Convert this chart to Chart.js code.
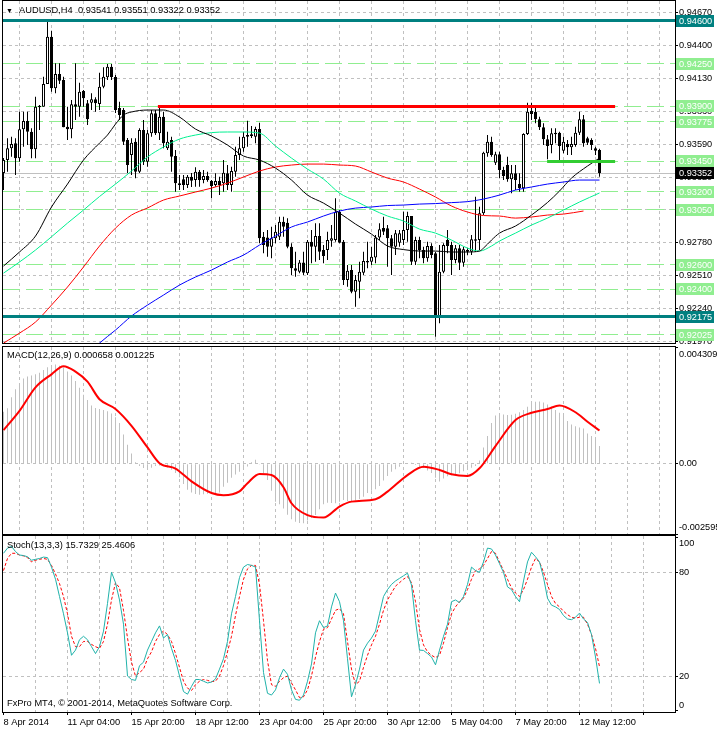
<!DOCTYPE html>
<html>
<head>
<meta charset="utf-8">
<title>AUDUSD,H4</title>
<script src="https://cdn.jsdelivr.net/npm/chart.js@4/dist/chart.umd.min.js"></script>
<style>
  html, body { margin:0; padding:0; background:#ffffff; }
  #wrap { position:relative; width:717px; height:729px; overflow:hidden; background:#ffffff; }
  #wrap canvas { position:absolute; left:0; }
  .txt { position:absolute; font-family:"Liberation Sans", Arial, sans-serif; font-size:9.3px; line-height:11px; color:#000; white-space:nowrap; z-index:2; }
</style>
</head>
<body>
<div id="wrap">
  <canvas id="priceChart" width="717" height="345" style="top:0px"></canvas>
  <canvas id="macdChart" width="717" height="191" style="top:345px"></canvas>
  <canvas id="stochChart" width="717" height="194" style="top:535px"></canvas>
  <div class="txt" style="left:6px;top:5px;font-size:7px">▼</div>
  <div class="txt" style="left:19px;top:5px">AUDUSD,H4&nbsp; 0.93541 0.93551 0.93322 0.93352</div>
  <div class="txt" style="left:7px;top:350px">MACD(12,26,9) 0.000658 0.001225</div>
  <div class="txt" style="left:7px;top:540px">Stoch(13,3,3) 15.7329 25.4606</div>
  <div class="txt" style="left:7px;top:698px">FxPro MT4, © 2001-2014, MetaQuotes Software Corp.</div>
</div>
<script>
// ---------------- DATA ----------------
const dateLabels = ['8 Apr 2014','11 Apr 04:00','15 Apr 20:00','18 Apr 12:00','23 Apr 04:00','25 Apr 20:00','30 Apr 12:00','5 May 04:00','7 May 20:00','12 May 12:00'];

const opens = [0.93352,0.93459,0.93555,0.93596,0.93473,0.93711,0.93779,0.93691,0.93547,0.93891,
0.93896,0.94082,0.94470,0.94047,0.94164,0.94115,0.93732,0.93711,0.93916,0.93896,
0.94025,0.93924,0.93929,0.93957,0.93918,0.94060,0.94137,0.94224,0.94140,0.93885,
0.93869,0.93623,0.93500,0.93609,0.93363,0.93705,0.93445,0.93678,0.93842,0.93678,
0.93814,0.93555,0.93623,0.93492,0.93268,0.93301,0.93254,0.93322,0.93295,0.93363,
0.93295,0.93328,0.93287,0.93254,0.93287,0.93268,0.93350,0.93254,0.93363,0.93500,
0.93555,0.93650,0.93656,0.93650,0.93713,0.92830,0.92825,0.92748,0.92817,0.92830,
0.92953,0.92945,0.92748,0.92571,0.92543,0.92620,0.92530,0.92789,0.92748,0.92836,
0.92721,0.92721,0.92797,0.92803,0.93035,0.92789,0.92475,0.92557,0.92379,0.92461,
0.92535,0.92631,0.92625,0.92661,0.92825,0.92901,0.92899,0.92817,0.92748,0.92780,
0.92803,0.92885,0.93000,0.92625,0.92803,0.92721,0.92653,0.92754,0.92694,0.92180,
0.92543,0.92803,0.92762,0.92639,0.92735,0.92617,0.92721,0.92707,0.92809,0.92803,
0.93022,0.93514,0.93609,0.93437,0.93506,0.93377,0.93418,0.93301,0.93350,0.93262,
0.93227,0.93672,0.93863,0.93855,0.93793,0.93727,0.93629,0.93582,0.93670,0.93683,
0.93535,0.93590,0.93563,0.93582,0.93683,0.93793,0.93637,0.93623,0.93555,0.93541];
const highs = [0.93475,0.93637,0.93650,0.93637,0.93855,0.93855,0.93855,0.93719,0.93978,0.93910,
0.94142,0.94607,0.94519,0.94252,0.94252,0.94142,0.93896,0.93951,0.94252,0.94093,
0.94033,0.93951,0.94006,0.93973,0.94175,0.94219,0.94246,0.94246,0.94156,0.93937,
0.93885,0.93639,0.93637,0.93637,0.93719,0.93787,0.93705,0.93869,0.93869,0.93896,
0.93855,0.93691,0.93650,0.93541,0.93336,0.93336,0.93336,0.93352,0.93399,0.93377,
0.93377,0.93363,0.93295,0.93350,0.93322,0.93459,0.93418,0.93404,0.93568,0.93650,
0.93691,0.93781,0.93738,0.93732,0.93765,0.92869,0.92885,0.92912,0.92926,0.92994,
0.92994,0.92981,0.92776,0.92707,0.92639,0.92707,0.92803,0.92885,0.92940,0.92940,
0.92762,0.92871,0.92926,0.93145,0.93049,0.92803,0.92598,0.92598,0.92516,0.92625,
0.92707,0.92789,0.92748,0.92844,0.92940,0.92994,0.92926,0.92844,0.92885,0.92885,
0.93035,0.93035,0.93000,0.92830,0.92830,0.92748,0.92789,0.92776,0.92707,0.92762,
0.92776,0.92885,0.92789,0.92762,0.92762,0.92748,0.92735,0.92844,0.93158,0.93076,
0.93527,0.93664,0.93650,0.93527,0.93527,0.93404,0.93486,0.93418,0.93418,0.93350,
0.93678,0.93929,0.93929,0.93896,0.93814,0.93760,0.93664,0.93719,0.93719,0.93691,
0.93650,0.93623,0.93650,0.93732,0.93855,0.93828,0.93650,0.93637,0.93568,0.93551];
const lows = [0.93213,0.93363,0.93486,0.93336,0.93445,0.93568,0.93582,0.93473,0.93473,0.93705,
0.93896,0.94082,0.94019,0.94006,0.94082,0.93727,0.93623,0.93637,0.93787,0.93814,
0.93896,0.93746,0.93869,0.93855,0.93869,0.94047,0.94115,0.94115,0.93844,0.93787,
0.93582,0.93352,0.93336,0.93309,0.93352,0.93418,0.93404,0.93650,0.93664,0.93623,
0.93555,0.93541,0.93363,0.93199,0.93213,0.93213,0.93229,0.93238,0.93240,0.93240,
0.93268,0.93281,0.93145,0.93240,0.93172,0.93199,0.93213,0.93199,0.93322,0.93459,
0.93527,0.93568,0.93639,0.93596,0.92776,0.92694,0.92666,0.92653,0.92776,0.92803,
0.92830,0.92735,0.92516,0.92502,0.92530,0.92516,0.92516,0.92612,0.92625,0.92639,
0.92612,0.92639,0.92748,0.92789,0.92776,0.92434,0.92420,0.92366,0.92256,0.92325,
0.92516,0.92571,0.92598,0.92612,0.92803,0.92844,0.92584,0.92516,0.92680,0.92748,
0.92762,0.92789,0.92598,0.92598,0.92653,0.92612,0.92625,0.92653,0.92010,0.92120,
0.92530,0.92694,0.92516,0.92612,0.92557,0.92584,0.92680,0.92680,0.92707,0.92721,
0.93008,0.93486,0.93486,0.93418,0.93309,0.93295,0.93281,0.93186,0.93213,0.93199,
0.93199,0.93664,0.93787,0.93760,0.93705,0.93582,0.93465,0.93514,0.93596,0.93459,
0.93514,0.93500,0.93500,0.93568,0.93664,0.93568,0.93582,0.93541,0.93500,0.93322];
const closes = [0.93459,0.93555,0.93590,0.93473,0.93711,0.93779,0.93691,0.93547,0.93896,0.93904,
0.94082,0.94470,0.94047,0.94164,0.94109,0.93727,0.93711,0.93916,0.93896,0.94019,
0.93965,0.93793,0.93957,0.93924,0.94060,0.94142,0.94224,0.94140,0.93869,0.93828,
0.93609,0.93418,0.93601,0.93363,0.93705,0.93445,0.93678,0.93842,0.93678,0.93814,
0.93596,0.93609,0.93486,0.93268,0.93254,0.93254,0.93322,0.93289,0.93363,0.93295,
0.93328,0.93295,0.93246,0.93287,0.93254,0.93355,0.93254,0.93369,0.93500,0.93555,
0.93650,0.93664,0.93670,0.93713,0.92817,0.92762,0.92748,0.92817,0.92871,0.92953,
0.92912,0.92748,0.92571,0.92551,0.92620,0.92535,0.92789,0.92748,0.92836,0.92707,
0.92672,0.92803,0.92817,0.93035,0.92781,0.92475,0.92551,0.92379,0.92475,0.92543,
0.92631,0.92620,0.92666,0.92825,0.92891,0.92871,0.92817,0.92748,0.92858,0.92858,
0.92885,0.93000,0.92625,0.92803,0.92721,0.92653,0.92754,0.92680,0.92180,0.92543,
0.92762,0.92754,0.92639,0.92735,0.92617,0.92727,0.92707,0.92809,0.92797,0.93022,
0.93519,0.93609,0.93500,0.93506,0.93377,0.93328,0.93301,0.93350,0.93295,0.93227,
0.93672,0.93855,0.93836,0.93793,0.93727,0.93629,0.93574,0.93678,0.93683,0.93574,
0.93609,0.93563,0.93590,0.93683,0.93793,0.93596,0.93601,0.93582,0.93535,0.93352];

// moving averages: [bar index, price]
const maBlack = [[0,0.92590],[4,0.92705],[8,0.92836],[12,0.93074],[16,0.93262],[20,0.93459],[24,0.93598],[26,0.93664],[28,0.93754],[30,0.93828],[32,0.93853],[36,0.93869],[40,0.93869],[44,0.93812],[48,0.93713],[52,0.93656],[56,0.93582],[60,0.93492],[64,0.93459],[68,0.93393],[72,0.93295],[76,0.93172],[80,0.93106],[84,0.93024],[88,0.92934],[92,0.92852],[96,0.92754],[100,0.92725],[104,0.92713],[108,0.92713],[112,0.92705],[116,0.92705],[119,0.92713],[120,0.92737],[122,0.92803],[124,0.92860],[128,0.92918],[132,0.93008],[136,0.93111],[139,0.93205],[142,0.93311],[146,0.93410],[149,0.93475]];
const maGreen = [[0,0.92532],[4,0.92623],[8,0.92721],[12,0.92830],[16,0.92942],[20,0.93049],[24,0.93160],[28,0.93262],[32,0.93369],[36,0.93484],[40,0.93566],[44,0.93631],[48,0.93664],[52,0.93684],[56,0.93689],[60,0.93689],[64,0.93680],[68,0.93574],[72,0.93475],[76,0.93385],[80,0.93303],[84,0.93188],[88,0.93123],[92,0.93057],[96,0.93000],[100,0.92959],[104,0.92893],[108,0.92860],[112,0.92803],[116,0.92737],[119,0.92713],[122,0.92754],[124,0.92795],[128,0.92860],[132,0.92926],[136,0.92983],[140,0.93049],[144,0.93115],[149,0.93189]];
const maRed = [[0,0.91958],[4,0.92040],[8,0.92131],[12,0.92270],[16,0.92418],[20,0.92582],[24,0.92754],[28,0.92901],[32,0.93008],[36,0.93066],[40,0.93131],[44,0.93164],[48,0.93197],[52,0.93229],[56,0.93270],[60,0.93320],[64,0.93369],[68,0.93402],[72,0.93418],[76,0.93426],[80,0.93426],[84,0.93418],[88,0.93410],[92,0.93361],[96,0.93311],[100,0.93279],[104,0.93221],[108,0.93156],[112,0.93082],[116,0.93033],[120,0.93004],[124,0.93000],[128,0.92983],[132,0.92992],[136,0.93008],[140,0.93016],[145,0.93041]];
const maBlue = [[20,0.91827],[24,0.91958],[28,0.92065],[32,0.92180],[36,0.92270],[40,0.92352],[44,0.92434],[48,0.92500],[52,0.92557],[56,0.92623],[60,0.92680],[64,0.92762],[68,0.92836],[72,0.92910],[76,0.92951],[80,0.93000],[84,0.93041],[88,0.93065],[92,0.93074],[96,0.93086],[100,0.93090],[104,0.93098],[108,0.93102],[112,0.93110],[116,0.93118],[120,0.93139],[124,0.93172],[128,0.93213],[132,0.93238],[136,0.93262],[140,0.93279],[144,0.93295],[149,0.93295]];

// horizontal levels
const priceTicks = [0.94670,0.94400,0.94130,0.93860,0.93590,0.93320,0.93050,0.92780,0.92510,0.92240,0.91970];
const tealLevels = [0.94600,0.92175];
const greenLevels = [0.94250,0.93900,0.93775,0.93450,0.93200,0.93050,0.92600,0.92400,0.92025];
const redSegment = {level:0.93900, from:38.6, to:152.9};
const greenSegment = {level:0.93450, from:135.9, to:152.9};
const lastPrice = 0.93352;

// MACD
const macdMain = [0.00192,0.00205,0.00245,0.00275,0.00292,0.00315,0.00322,0.00326,0.00330,0.00336,
0.00346,0.00356,0.00362,0.00366,0.00362,0.00355,0.00340,0.00326,0.00305,0.00280,
0.00255,0.00235,0.00215,0.00206,0.00202,0.00198,0.00194,0.00185,0.00172,0.00150,
0.00108,0.00070,0.00038,0.00005,-0.00008,-0.00016,-0.00020,-0.00015,-0.00008,-0.00007,
-0.00009,-0.00014,-0.00022,-0.00034,-0.00050,-0.00075,-0.00096,-0.00106,-0.00112,-0.00115,
-0.00113,-0.00111,-0.00109,-0.00108,-0.00106,-0.00085,-0.00070,-0.00052,-0.00040,-0.00030,
-0.00020,-0.00010,0.00005,0.00015,-0.00003,-0.00035,-0.00060,-0.00100,-0.00140,-0.00150,
-0.00165,-0.00188,-0.00205,-0.00214,-0.00219,-0.00220,-0.00210,-0.00200,-0.00189,-0.00168,
-0.00150,-0.00144,-0.00145,-0.00146,-0.00140,-0.00134,-0.00138,-0.00140,-0.00136,-0.00130,
-0.00122,-0.00108,-0.00100,-0.00094,-0.00082,-0.00062,-0.00045,-0.00030,-0.00020,-0.00011,
-0.00002,0.00002,0.00004,-0.00005,-0.00012,-0.00016,-0.00025,-0.00034,-0.00052,-0.00066,
-0.00055,-0.00046,-0.00043,-0.00040,-0.00035,-0.00028,-0.00022,-0.00015,-0.00008,0.00012,
0.00060,0.00102,0.00150,0.00178,0.00183,0.00182,0.00180,0.00181,0.00184,0.00190,
0.00198,0.00210,0.00220,0.00229,0.00230,0.00226,0.00219,0.00210,0.00198,0.00188,
0.00178,0.00158,0.00145,0.00138,0.00134,0.00130,0.00112,0.00102,0.00092,0.000658];
const macdSignal = [[0,0.00124],[4,0.00195],[8,0.00282],[12,0.00330],[15,0.00360],[18,0.00340],[21,0.00303],[24,0.00238],[28,0.00202],[32,0.00140],[36,0.00060],[39,0.00002],[43,-0.00018],[47,-0.00065],[52,-0.00108],[55,-0.00116],[59,-0.00102],[61,-0.00072],[64,-0.00038],[67,-0.00042],[70,-0.00087],[72,-0.00146],[76,-0.00190],[80,-0.00199],[84,-0.00158],[87,-0.00140],[93,-0.00131],[96,-0.00103],[101,-0.00042],[105,-0.00011],[109,-0.00023],[112,-0.00039],[116,-0.00045],[119,-0.00017],[123,0.00065],[128,0.00161],[132,0.00188],[136,0.00202],[139,0.00215],[143,0.00190],[146,0.00155],[149,0.001225]];
const macdTicks = [0.004309,0,-0.002595];
const macdTickLabels = ['0.004309','0.00','-0.002595'];

// Stochastic
const stochMain = [91,94,95,92,90,89.7,89,87,87.5,88,
88.8,88.5,83,76,66,56,45,32,35,41,
43,41,37,33,37,46,62,80,74,64,
50,20,18,17.5,26,28,35,40,45,49,
42,44,36,29,20,11,9.5,14,18,18,
17,16,16.5,18.3,24,30,40,56,66,77,
83,84.5,84,83,52,22,10,9,12,19,
24,21,12,6.5,6,9,17,27,45,52,
48,49,60,68,63,52,30,8,15,24,
35,39,42,46,56,66,70,73,75,76.5,
78,79.5,72.6,52,35,34.8,33,31,26.5,35,
43,50,63,64,62.5,66,73,83,81,80,
86,94,93.5,90,85,80,71.6,70,66,63,
75,86,91.6,89,86,77,65,61,60,58.5,
55,53,52.6,54,56.4,53,51,44,31,15.73];
const stochSignal = [81,88,91,91,90,89.5,88.5,86,87,87.5,
88,87.5,84,79,73.5,66,56,43,37,37,
40,40,38.3,37,36,40,50,64,74,71,
58,42,28,20,22,24,30,34,40,44,
46,44,40,33,25,17,13,11.6,15,17,
18,17.5,16.8,17,20,26,34,43,55,66,
76,82,84,84,73,52,29,15,14,17,
19,20,16,12,7.5,8,12,20,31,40,
47,48,53,58,59,56,40,24,15,17,
25,32,38,43,50,58,64,68,72,74,
76,77.5,74,63,47,38,34,32,30.7,32,
39,48,56,60,63,65,70,76,81,82,
84,88,92,91,86,81,76,71,68,66,
70,76,83,88,86,80,73,66,62,60,
57.5,55.5,54,53.5,54,54,50,44,36,25.46];
const stochTicks = [100,80,20,0];
const stochTickLabels = ['100','80','20','0'];

// ---------------- RENDERING ----------------
const FONT = '"Liberation Sans", Arial, sans-serif';
const AXIS_FONT_SIZE = 9.2;
Chart.defaults.font.family = FONT;
Chart.defaults.font.size = 9.3;
Chart.defaults.color = '#000';

const SLOTS = 168;              // bar slots across the plot (including empty right margin)
const gridSteps = [];
for (let k = 0; k <= 160; k += 8) gridSteps.push(k);
const CLEAR = 'rgba(0,0,0,0)';
const GRID = '#c0c0c0';

function makeX(showLabels) {
  return {
    type: 'linear', min: -0.125, max: SLOTS - 0.125, offset: false,
    afterBuildTicks(s) { s.ticks = gridSteps.map(v => ({ value: v })); },
    afterFit(s) { s.height = showLabels ? 17 : 0; s.paddingLeft = 0; s.paddingRight = 0; },
    grid: {
      display: true, drawOnChartArea: true, drawTicks: showLabels, tickLength: 3, lineWidth: 1,
      color: c => (c.tick && c.tick.value === 0) ? CLEAR : GRID,
      tickColor: c => (c.tick && c.tick.value % 16 === 0) ? '#000' : CLEAR
    },
    border: { display: false, dash: [3, 3] },
    ticks: {
      display: showLabels, autoSkip: false, maxRotation: 0, minRotation: 0, align: 'start', padding: 2,
      color: '#000', font: { family: FONT, size: 9.3 },
      callback: v => (v % 16 === 0 && dateLabels[v / 16]) ? dateLabels[v / 16] : ''
    }
  };
}

const framePlugin = {
  id: 'frame',
  afterDraw(chart) {
    const { ctx, chartArea: a } = chart;
    ctx.save();
    ctx.strokeStyle = '#000'; ctx.lineWidth = 1; ctx.setLineDash([]);
    ctx.strokeRect(a.left - 0.5, a.top - 0.5, a.right - a.left + 1, a.bottom - a.top + 1);
    ctx.restore();
  }
};

const sideLabels = {
  id: 'sideLabels',
  afterDraw(chart, args, opts) {
    if (!opts || !opts.labels) return;
    const { ctx, chartArea: a } = chart;
    const y = chart.scales.y;
    ctx.save();
    ctx.font = AXIS_FONT_SIZE + 'px ' + FONT; ctx.fillStyle = '#000';
    ctx.textBaseline = 'middle'; ctx.textAlign = 'left';
    y.ticks.forEach((t, i) => {
      let py = y.getPixelForValue(t.value);
      py = Math.min(Math.max(py, a.top + 7), a.bottom - 7);
      ctx.fillText(opts.labels[i], a.right + 4, py);
    });
    ctx.restore();
  }
};

function crisp(v) { return Math.floor(v) + 0.5; }

const levelsPlugin = {
  id: 'levels',
  beforeDatasetsDraw(chart) {
    const { ctx, chartArea: a, scales: { y } } = chart;
    ctx.save();
    ctx.beginPath(); ctx.rect(a.left, a.top, a.right - a.left, a.bottom - a.top); ctx.clip();
    ctx.lineWidth = 1; ctx.strokeStyle = '#90ee90'; ctx.setLineDash([17, 6]);
    greenLevels.forEach(v => {
      const py = crisp(y.getPixelForValue(v));
      ctx.beginPath(); ctx.moveTo(a.left, py); ctx.lineTo(a.right, py); ctx.stroke();
    });
    ctx.setLineDash([]); ctx.strokeStyle = '#c0c0c0';
    const pl = crisp(y.getPixelForValue(lastPrice));
    ctx.beginPath(); ctx.moveTo(a.left, pl); ctx.lineTo(a.right, pl); ctx.stroke();
    ctx.restore();
  },
  afterDatasetsDraw(chart) {
    const { ctx, chartArea: a, scales: { x, y } } = chart;
    ctx.save();
    ctx.beginPath(); ctx.rect(a.left, a.top, a.right - a.left, a.bottom - a.top); ctx.clip();
    ctx.setLineDash([]); ctx.lineWidth = 3;
    ctx.strokeStyle = '#008080';
    tealLevels.forEach(v => {
      const py = crisp(y.getPixelForValue(v));
      ctx.beginPath(); ctx.moveTo(a.left, py); ctx.lineTo(a.right, py); ctx.stroke();
    });
    [[redSegment, '#ff0000'], [greenSegment, '#32cd32']].forEach(([s, col]) => {
      const py = crisp(y.getPixelForValue(s.level));
      ctx.strokeStyle = col;
      ctx.beginPath(); ctx.moveTo(x.getPixelForValue(s.from), py); ctx.lineTo(x.getPixelForValue(s.to), py); ctx.stroke();
    });
    ctx.restore();
  },
  afterDraw(chart) {
    const { ctx, chartArea: a, scales: { y } } = chart;
    ctx.save();
    ctx.font = AXIS_FONT_SIZE + 'px ' + FONT; ctx.textBaseline = 'middle'; ctx.textAlign = 'left';
    const box = (v, bg, fg) => {
      const py = Math.round(y.getPixelForValue(v));
      ctx.fillStyle = bg; ctx.fillRect(a.right + 1, py - 6, 38, 12);
      ctx.fillStyle = fg; ctx.fillText(v.toFixed(5), a.right + 4, py + 0.5);
    };
    greenLevels.forEach(v => box(v, '#90ee90', '#ffffff'));
    tealLevels.forEach(v => box(v, '#008080', '#ffffff'));
    box(lastPrice, '#000000', '#ffffff');
    ctx.restore();
  }
};

const baseOpts = {
  responsive: false, devicePixelRatio: 1, animation: false, events: [],
  plugins: { legend: { display: false }, tooltip: { enabled: false } }
};

// ---- Price chart ----
const idx = opens.map((o, i) => i);
new Chart(document.getElementById('priceChart'), {
  type: 'bar',
  data: {
    datasets: [
      { type: 'bar', order: 4, grouped: false, barThickness: 1, inflateAmount: 0,
        backgroundColor: '#000000', borderWidth: 0,
        data: idx.map(i => ({ x: i, y: [lows[i], highs[i]] })) },
      { type: 'bar', order: 3, grouped: false, barThickness: 3, inflateAmount: 0, minBarLength: 1,
        backgroundColor: idx.map(i => closes[i] >= opens[i] ? '#ffffff' : '#000000'),
        borderColor: '#000000', borderWidth: 1, borderSkipped: false,
        data: idx.map(i => ({ x: i, y: [Math.min(opens[i], closes[i]), Math.max(opens[i], closes[i])] })) },
      { type: 'line', order: 2, data: maBlue.map(p => ({ x: p[0], y: p[1] })), borderColor: '#0000ff', borderWidth: 1, pointRadius: 0, cubicInterpolationMode: 'monotone', fill: false },
      { type: 'line', order: 2, data: maRed.map(p => ({ x: p[0], y: p[1] })), borderColor: '#ff0000', borderWidth: 1, pointRadius: 0, cubicInterpolationMode: 'monotone', fill: false },
      { type: 'line', order: 1, data: maGreen.map(p => ({ x: p[0], y: p[1] })), borderColor: '#00f090', borderWidth: 1, pointRadius: 0, cubicInterpolationMode: 'monotone', fill: false },
      { type: 'line', order: 0, data: maBlack.map(p => ({ x: p[0], y: p[1] })), borderColor: '#000000', borderWidth: 1, pointRadius: 0, cubicInterpolationMode: 'monotone', fill: false }
    ]
  },
  options: Object.assign({}, baseOpts, {
    layout: { padding: { left: 3, right: 0, top: 1, bottom: 2 } },
    scales: {
      x: makeX(false),
      y: {
        type: 'linear', position: 'right', min: 0.91959, max: 0.94763,
        afterBuildTicks(s) { s.ticks = priceTicks.map(v => ({ value: v })); },
        afterFit(s) { s.width = 42; s.paddingTop = 0; s.paddingBottom = 0; },
        grid: { color: GRID, lineWidth: 1, drawTicks: true, tickLength: 3, tickColor: '#000' },
        border: { display: false, dash: [3, 3] },
        ticks: { padding: 1, color: '#000', font: { family: FONT, size: AXIS_FONT_SIZE }, callback: v => Number(v).toFixed(5) }
      }
    }
  }),
  plugins: [levelsPlugin, framePlugin]
});

// ---- MACD chart ----
new Chart(document.getElementById('macdChart'), {
  type: 'bar',
  data: {
    datasets: [
      { type: 'bar', order: 2, grouped: false, barThickness: 1, inflateAmount: 0, backgroundColor: '#c0c0c0', borderWidth: 0,
        data: macdMain.map((v, i) => ({ x: i, y: v })) },
      { type: 'line', order: 1, data: macdSignal.map(p => ({ x: p[0], y: p[1] })), borderColor: '#ff0000', borderWidth: 2, pointRadius: 0, cubicInterpolationMode: 'monotone', fill: false }
    ]
  },
  options: Object.assign({}, baseOpts, {
    layout: { padding: { left: 3, right: 0, top: 2, bottom: 2 } },
    plugins: { legend: { display: false }, tooltip: { enabled: false }, sideLabels: { labels: macdTickLabels } },
    scales: {
      x: makeX(false),
      y: {
        type: 'linear', position: 'right', min: -0.002595, max: 0.004309,
        afterBuildTicks(s) { s.ticks = macdTicks.map(v => ({ value: v })); },
        afterFit(s) { s.width = 42; s.paddingTop = 0; s.paddingBottom = 0; },
        grid: { color: c => (c.tick && c.tick.value === 0) ? GRID : CLEAR, lineWidth: 1, drawTicks: true, tickLength: 3, tickColor: '#000' },
        border: { display: false, dash: [3, 3] },
        ticks: { display: false }
      }
    }
  }),
  plugins: [sideLabels, framePlugin]
});

// ---- Stochastic chart ----
new Chart(document.getElementById('stochChart'), {
  type: 'line',
  data: {
    datasets: [
      { order: 2, data: stochSignal.map((v, i) => ({ x: i, y: v })), borderColor: '#ff0000', borderWidth: 1, borderDash: [3, 2], pointRadius: 0, tension: 0, fill: false },
      { order: 1, data: stochMain.map((v, i) => ({ x: i, y: v })), borderColor: '#20b2aa', borderWidth: 1, pointRadius: 0, tension: 0, fill: false }
    ]
  },
  options: Object.assign({}, baseOpts, {
    layout: { padding: { left: 3, right: 0, top: 1, bottom: 0 } },
    plugins: { legend: { display: false }, tooltip: { enabled: false }, sideLabels: { labels: stochTickLabels } },
    scales: {
      x: makeX(true),
      y: {
        type: 'linear', position: 'right', min: -0.8, max: 101,
        afterBuildTicks(s) { s.ticks = stochTicks.map(v => ({ value: v })); },
        afterFit(s) { s.width = 42; s.paddingTop = 0; s.paddingBottom = 0; },
        grid: { color: c => (c.tick && (c.tick.value === 80 || c.tick.value === 20)) ? GRID : CLEAR, lineWidth: 1, drawTicks: true, tickLength: 3, tickColor: '#000' },
        border: { display: false, dash: [3, 3] },
        ticks: { display: false }
      }
    }
  }),
  plugins: [sideLabels, framePlugin]
});
</script>
</body>
</html>
